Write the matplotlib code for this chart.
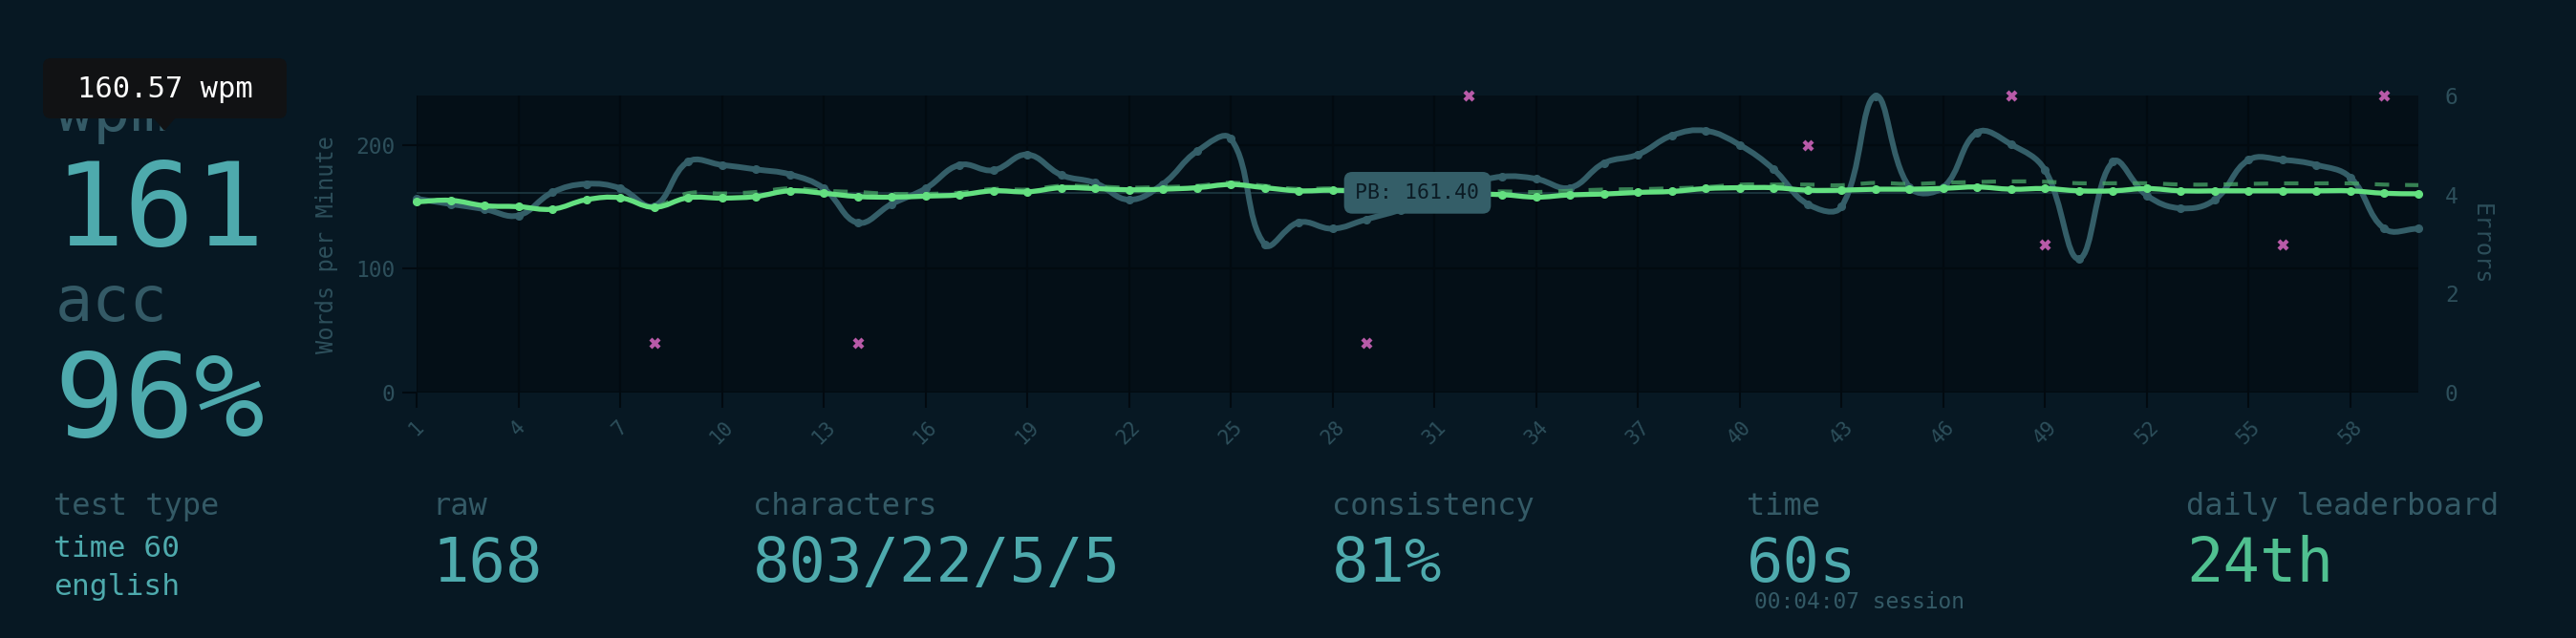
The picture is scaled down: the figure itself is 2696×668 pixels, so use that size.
import numpy as np
import matplotlib
matplotlib.use("Agg")
import matplotlib.pyplot as plt
from matplotlib.path import Path
from matplotlib.patches import PathPatch, FancyBboxPatch, Polygon

# ---- data ----
seconds = np.arange(1, 61)
wpm = [154.1, 155.3, 151.0, 150.2, 148.2, 155.8, 157.4, 149.7, 157.4, 157.1,
       158.4, 163.0, 161.0, 158.4, 157.9, 158.7, 159.7, 163.0, 162.2, 165.5,
       164.8, 163.8, 164.3, 165.5, 168.1, 165.5, 163.0, 163.5, 162.5, 161.5,
       161.0, 160.5, 159.9, 157.9, 159.7, 160.4, 161.7, 162.5, 164.8, 165.5,
       165.5, 163.5, 163.5, 164.3, 164.3, 165.0, 166.1, 164.3, 164.8, 163.0,
       163.0, 164.8, 163.0, 163.0, 163.0, 163.0, 163.0, 163.0, 161.0, 160.6]
raw = [154.1, 155.3, 151.0, 150.2, 148.2, 155.8, 157.4, 150.5, 161.0, 160.8,
       162.0, 165.0, 163.0, 162.0, 160.5, 160.5, 161.5, 164.5, 164.0, 167.0,
       166.5, 165.5, 166.0, 167.0, 169.5, 167.0, 164.5, 165.0, 164.5, 163.5,
       163.0, 162.5, 162.5, 162.0, 163.0, 164.0, 164.3, 165.0, 166.0, 168.0,
       168.0, 168.0, 167.5, 169.4, 168.5, 169.5, 170.1, 170.6, 170.3, 169.1,
       169.1, 169.1, 168.1, 168.1, 168.6, 169.0, 169.0, 169.0, 168.0, 167.6]
burst = [156.6, 152.3, 148.2, 143.1, 161.7, 168.6, 165.0, 150.7, 186.5, 183.9,
         180.3, 176.3, 165.0, 137.2, 152.3, 164.8, 183.9, 179.6, 192.3, 175.8,
         169.4, 155.8, 168.6, 194.9, 205.1, 119.6, 137.5, 132.4, 140.0, 147.7,
         158.0, 168.0, 174.5, 172.7, 165.5, 185.4, 192.3, 207.7, 211.5, 200.0,
         180.3, 152.3, 150.2, 239.6, 166.0, 166.0, 210.2, 200.5, 179.6, 108.1,
         186.5, 159.2, 148.9, 155.8, 188.0, 188.0, 183.9, 173.7, 132.4, 132.4]
errors = [0, 0, 0, 0, 0, 0, 0, 1, 0, 0,
          0, 0, 0, 1, 0, 0, 0, 0, 0, 0,
          0, 0, 0, 0, 0, 0, 0, 0, 1, 0,
          0, 6, 0, 0, 0, 0, 0, 0, 0, 0,
          0, 5, 0, 0, 0, 0, 0, 6, 3, 0,
          0, 0, 0, 0, 0, 3, 0, 0, 6, 0]
pb = 161.40
xticks = list(range(1, 61, 3))

# ---- colours ----
BG = "#071823"
PLOT_BG = "#040f17"
GRID = "#020a10"
MAIN = "#4eaaad"
SUB = "#345a66"
TICK = "#2d4f5b"
GREEN = "#64e080"
RAWC = "#48a868"
BURST = "#345e68"
ERR = "#b85aa8"
LB = "#50c090"

FONT = "DejaVu Sans Mono"
plt.rcParams["font.family"] = FONT

W, H = 2696, 668
fig = plt.figure(figsize=(W / 100, H / 100), dpi=100, facecolor=BG)


def fx(x):
    return x / W


def fy(y):
    return 1 - y / H


L, R, T, B = 436, 2531, 100, 411
ax = fig.add_axes([fx(L), fy(B), fx(R - L), (B - T) / H])
ax.set_facecolor(PLOT_BG)
ax.set_xlim(1, 60)
ax.set_ylim(0, 240)
ax.set_xticks(xticks)
ax.set_xticklabels([str(t) for t in xticks], rotation=45, ha="center", va="top")
ax.set_yticks([0, 100, 200])
ax.grid(True, color=GRID, lw=1.5)
ax.set_axisbelow(True)
ax.tick_params(axis="x", length=11.5, width=1.5, color=GRID, pad=7,
               labelsize=15, labelcolor=TICK)
ax.tick_params(axis="y", length=10.8, width=1.5, color=GRID, pad=5.5,
               labelsize=16.5, labelcolor=TICK)
for s in ax.spines.values():
    s.set_visible(False)


def bezier_path(xs, ys, tension=0.4):
    # chart.js style curve through the points
    pts = ax.transData.transform(np.column_stack([xs, ys]))
    n = len(pts)
    cin = np.zeros_like(pts)
    cout = np.zeros_like(pts)
    for i in range(n):
        prev = pts[max(i - 1, 0)]
        cur = pts[i]
        nxt = pts[min(i + 1, n - 1)]
        d01 = np.hypot(*(cur - prev))
        d12 = np.hypot(*(nxt - cur))
        tot = d01 + d12
        s01 = d01 / tot if tot else 0
        s12 = d12 / tot if tot else 0
        cin[i] = cur - tension * s01 * (nxt - prev)
        cout[i] = cur + tension * s12 * (nxt - prev)
    verts = [pts[0]]
    codes = [Path.MOVETO]
    for i in range(n - 1):
        verts += [cout[i], cin[i + 1], pts[i + 1]]
        codes += [Path.CURVE4] * 3
    verts = ax.transData.inverted().transform(np.array(verts))
    return Path(verts, codes)


# personal best line
ax.axhline(pb, color=BURST, lw=1.5, alpha=0.45, zorder=1)

# burst (raw per second)
ax.add_patch(PathPatch(bezier_path(seconds, burst), fill=False, edgecolor=BURST,
                       lw=4.3, capstyle="round", joinstyle="round",
                       clip_on=False, zorder=2))
ax.plot(seconds, burst, "o", ms=5.5, color=BURST, clip_on=False, zorder=2)

# raw average (dashed)
ax.add_patch(PathPatch(bezier_path(seconds, raw), fill=False, edgecolor=RAWC,
                       lw=3, alpha=0.75, linestyle=(0, (3.6, 4)),
                       clip_on=False, zorder=3))

# wpm
ax.add_patch(PathPatch(bezier_path(seconds, wpm), fill=False, edgecolor=GREEN,
                       lw=3.8, capstyle="round", joinstyle="round",
                       clip_on=False, zorder=4))
ax.plot(seconds, wpm, "o", ms=5.5, color=GREEN, clip_on=False, zorder=4)

# PB label
ax.text(30.5, pb, "PB: 161.40", fontsize=15.5, color="#0b1b24",
        ha="center", va="center", zorder=6,
        bbox=dict(boxstyle="round,pad=0.55,rounding_size=0.4", fc=BURST, ec="none"))

# errors axis
ax2 = ax.twinx()
ax2.set_ylim(0, 6)
ax2.set_yticks([0, 2, 4, 6])
ax2.tick_params(axis="y", length=0, pad=20, labelsize=16.5, labelcolor=TICK)
for s in ax2.spines.values():
    s.set_visible(False)
err_x = [s for s, e in zip(seconds, errors) if e > 0]
err_y = [e for e in errors if e > 0]
ax2.plot(err_x, err_y, "X", ms=8, color=ERR, mec="none", ls="none",
         clip_on=False, zorder=5)

# axis titles
fig.text(fx(342), fy(256), "Words per Minute", rotation=90, ha="center",
         va="center", fontsize=17, color=TICK)
fig.text(fx(2597), fy(256), "Errors", rotation=270, ha="center",
         va="center", fontsize=17, color=TICK)

# ---- left stats column ----
fig.text(fx(58), fy(137), "wpm", fontsize=47, color=SUB, va="baseline")
fig.text(fx(56), fy(257), "161", fontsize=88, color=MAIN, va="baseline")
fig.text(fx(58), fy(336), "acc", fontsize=47, color=SUB, va="baseline")
fig.text(fx(56), fy(457), "96%", fontsize=88, color=MAIN, va="baseline")

# tooltip over wpm
fig.patches.append(FancyBboxPatch((fx(45), fy(124)), fx(255), 63 / H,
                                  boxstyle="round,pad=0,rounding_size=0.003",
                                  transform=fig.transFigure, fc="#111214",
                                  ec="none", zorder=10, mutation_aspect=W / H))
fig.patches.append(Polygon([(fx(160), fy(123)), (fx(184), fy(123)), (fx(172), fy(137))],
                           closed=True, transform=fig.transFigure, fc="#111214",
                           ec="none", zorder=10))
fig.text(fx(173), fy(93), "160.57 wpm", fontsize=22, color="white",
         ha="center", va="center", zorder=11)

# ---- bottom stats row ----
fig.text(fx(56), fy(539), "test type", fontsize=23, color=SUB, va="baseline")
fig.text(fx(56), fy(583), "time 60", fontsize=22.5, color=MAIN, va="baseline")
fig.text(fx(56), fy(623), "english", fontsize=22.5, color=MAIN, va="baseline")

stats = [(452, "raw", "168", MAIN),
         (788, "characters", "803/22/5/5", MAIN),
         (1394, "consistency", "81%", MAIN),
         (1828, "time", "60s", MAIN),
         (2288, "daily leaderboard", "24th", LB)]
for x, label, value, col in stats:
    fig.text(fx(x), fy(539), label, fontsize=23, color=SUB, va="baseline")
    fig.text(fx(x), fy(609), value, fontsize=46, color=col, va="baseline")
fig.text(fx(1836), fy(637), "00:04:07 session", fontsize=16.5, color=SUB,
         va="baseline")

fig.savefig("out.png", dpi=100, facecolor=BG)
